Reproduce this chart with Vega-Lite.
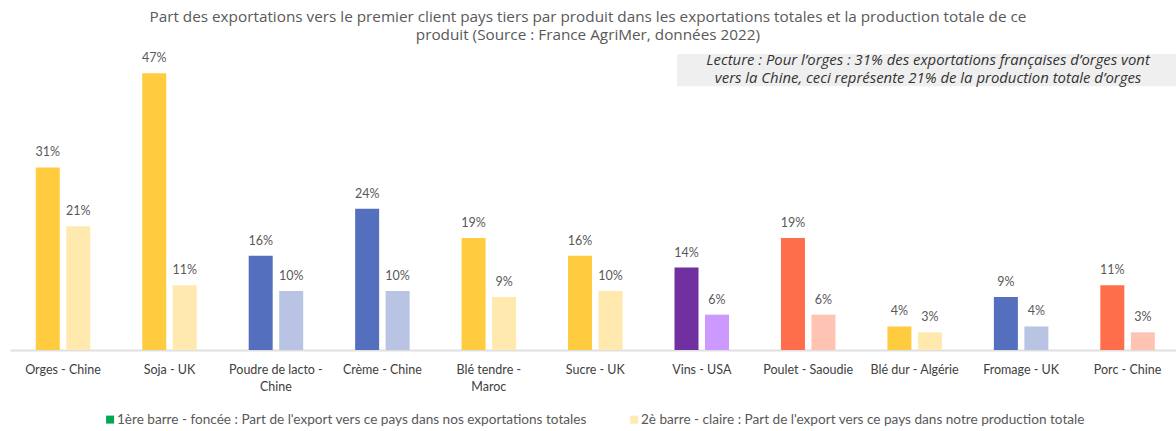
{
  "$schema": "https://vega.github.io/schema/vega-lite/v6.json",
  "width": 1166.2,
  "height": 294.5,
  "autosize": "none",
  "padding": {"left": 9.8, "top": 55.5, "right": 0, "bottom": 81},
  "background": "white",
  "title": {
    "text": ["Part des exportations vers le premier client pays tiers par produit dans les exportations totales et la production totale de ce", "produit (Source : France AgriMer, données 2022)"],
    "font": "Open Sans",
    "fontSize": 15.3,
    "fontWeight": "normal",
    "color": "#595959",
    "anchor": "middle",
    "dx": -5,
    "lineHeight": 18,
    "offset": 9
  },
  "datasets": {
    "barres": [
      {"produit": "Orges - Chine", "filiere": "cultures", "barre": "export", "part": 31},
      {"produit": "Orges - Chine", "filiere": "cultures", "barre": "production", "part": 21},
      {"produit": "Soja - UK", "filiere": "cultures", "barre": "export", "part": 47},
      {"produit": "Soja - UK", "filiere": "cultures", "barre": "production", "part": 11},
      {"produit": "Poudre de lacto - Chine", "filiere": "lait", "barre": "export", "part": 16},
      {"produit": "Poudre de lacto - Chine", "filiere": "lait", "barre": "production", "part": 10},
      {"produit": "Crème - Chine", "filiere": "lait", "barre": "export", "part": 24},
      {"produit": "Crème - Chine", "filiere": "lait", "barre": "production", "part": 10},
      {"produit": "Blé tendre - Maroc", "filiere": "cultures", "barre": "export", "part": 19},
      {"produit": "Blé tendre - Maroc", "filiere": "cultures", "barre": "production", "part": 9},
      {"produit": "Sucre - UK", "filiere": "cultures", "barre": "export", "part": 16},
      {"produit": "Sucre - UK", "filiere": "cultures", "barre": "production", "part": 10},
      {"produit": "Vins - USA", "filiere": "vin", "barre": "export", "part": 14},
      {"produit": "Vins - USA", "filiere": "vin", "barre": "production", "part": 6},
      {"produit": "Poulet - Saoudie", "filiere": "viande", "barre": "export", "part": 19},
      {"produit": "Poulet - Saoudie", "filiere": "viande", "barre": "production", "part": 6},
      {"produit": "Blé dur - Algérie", "filiere": "cultures", "barre": "export", "part": 4},
      {"produit": "Blé dur - Algérie", "filiere": "cultures", "barre": "production", "part": 3},
      {"produit": "Fromage - UK", "filiere": "lait", "barre": "export", "part": 9},
      {"produit": "Fromage - UK", "filiere": "lait", "barre": "production", "part": 4},
      {"produit": "Porc - Chine", "filiere": "viande", "barre": "export", "part": 11},
      {"produit": "Porc - Chine", "filiere": "viande", "barre": "production", "part": 3}
    ],
    "legende": [
      {"legende": "1ère barre - foncée : Part de l'export vers ce pays dans nos exportations totales"},
      {"legende": "2è barre - claire : Part de l'export vers ce pays dans notre production totale"}
    ],
    "note": [
      {"texte": ["Lecture : Pour l’orges : 31% des exportations françaises d’orges vont", "vers la Chine, ceci représente 21% de la production totale d’orges"]}
    ]
  },
  "layer": [
    {
      "data": {"name": "barres"},
      "transform": [{"calculate": "datum.filiere + ' ' + datum.barre", "as": "cle"}],
      "mark": {"type": "bar"},
      "encoding": {
        "x": {
          "field": "produit", "type": "nominal",
          "scale": {
            "domain": ["Orges - Chine", "Soja - UK", "Poudre de lacto - Chine", "Crème - Chine", "Blé tendre - Maroc", "Sucre - UK", "Vins - USA", "Poulet - Saoudie", "Blé dur - Algérie", "Fromage - UK", "Porc - Chine"],
            "range": [0, 1171],
            "paddingInner": 0, "paddingOuter": 0
          },
          "axis": {
            "title": null,
            "domain": true, "domainColor": "#E0E0E0", "domainWidth": 2,
            "ticks": false,
            "labelAngle": 0,
            "labelFont": "Lato", "labelFontSize": 12.5, "labelColor": "#404040",
            "labelPadding": 13, "labelLimit": 200, "labelLineHeight": 17,
            "labelExpr": "datum.value == 'Poudre de lacto - Chine' ? ['Poudre de lacto -', 'Chine'] : datum.value == 'Blé tendre - Maroc' ? ['Blé tendre -', 'Maroc'] : datum.value"
          }
        },
        "xOffset": {
          "field": "barre", "type": "nominal", "sort": ["export", "production"],
          "scale": {"paddingInner": 0.213, "paddingOuter": 0.852}
        },
        "y": {"field": "part", "type": "quantitative", "scale": {"domain": [0, 50]}, "axis": null},
        "fill": {
          "field": "cle", "type": "nominal",
          "scale": {
            "domain": ["cultures export", "cultures production", "lait export", "lait production", "vin export", "vin production", "viande export", "viande production"],
            "range": ["#FFCC40", "#FFE9AE", "#546FBD", "#B9C4E5", "#7030A0", "#CC99FF", "#FF6E4A", "#FFC3B3"]
          },
          "legend": null
        }
      }
    },
    {
      "data": {"name": "barres"},
      "transform": [{"calculate": "datum.part + '%'", "as": "etiquette"}],
      "mark": {"type": "text", "baseline": "bottom", "dy": -8, "font": "Lato", "fontSize": 12.5, "color": "#595959"},
      "encoding": {
        "x": {"field": "produit", "type": "nominal"},
        "xOffset": {"field": "barre", "type": "nominal", "sort": ["export", "production"]},
        "y": {"field": "part", "type": "quantitative"},
        "text": {"field": "etiquette"}
      }
    },
    {
      "data": {"name": "note"},
      "mark": {"type": "rect", "color": "#EFEFEF", "clip": false},
      "encoding": {
        "x": {"datum": "Vins - USA", "type": "nominal", "bandPosition": 0.268},
        "x2": {"datum": "Porc - Chine", "bandPosition": 0.955},
        "y": {"datum": 50.25, "type": "quantitative"},
        "y2": {"datum": 44.8}
      }
    },
    {
      "data": {"name": "note"},
      "mark": {"type": "text", "font": "Open Sans", "fontSize": 14.9, "fontStyle": "italic", "color": "#333333", "baseline": "middle", "align": "center", "lineHeight": 18, "clip": false},
      "encoding": {
        "x": {"datum": "Blé dur - Algérie", "type": "nominal", "bandPosition": 0.626},
        "y": {"datum": 49.0, "type": "quantitative"},
        "text": {"field": "texte"}
      }
    },
    {
      "data": {"name": "legende"},
      "mark": {"type": "square", "opacity": 0},
      "encoding": {
        "color": {
          "field": "legende", "type": "nominal",
          "scale": {
            "domain": ["1ère barre - foncée : Part de l'export vers ce pays dans nos exportations totales", "2è barre - claire : Part de l'export vers ce pays dans notre production totale"],
            "range": ["#00A651", "#FFEAB0"]
          },
          "legend": {
            "title": null,
            "orient": "none",
            "legendX": 93.5,
            "legendY": 357,
            "direction": "horizontal",
            "symbolType": "square",
            "symbolSize": 64,
            "symbolOpacity": 1,
            "symbolStrokeWidth": 0,
            "labelFont": "Lato",
            "labelFontSize": 13.6,
            "labelColor": "#595959",
            "labelLimit": 700,
            "columnPadding": 40,
            "labelOffset": 0
          }
        }
      }
    }
  ],
  "config": {"view": {"stroke": null}}
}
